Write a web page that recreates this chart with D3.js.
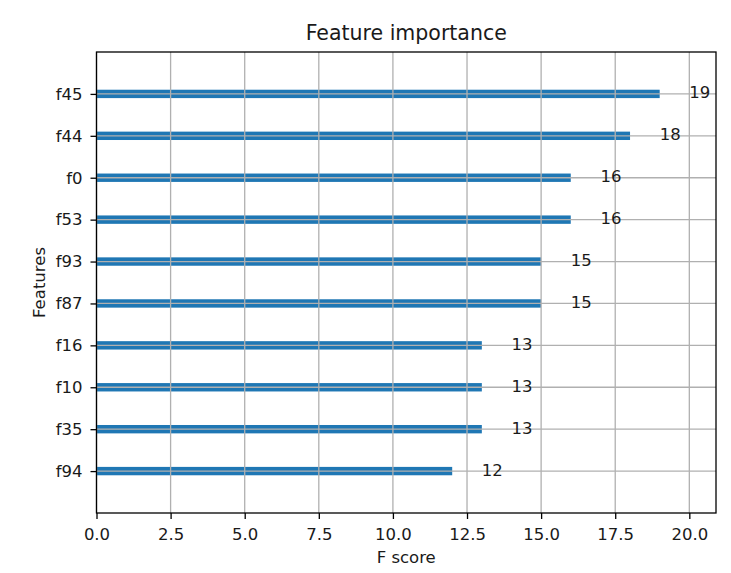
<!DOCTYPE html>
<html>
<head>
<meta charset="utf-8">
<script src="https://cdn.jsdelivr.net/npm/d3@7"></script>
<style>
  body { margin: 0; background: #fff; }
  text { font-family: "DejaVu Sans", sans-serif; fill: #1a1a1a; }
</style>
</head>
<body>
<script>
// feature importance, bottom to top as matplotlib draws it
var features = ["f94", "f35", "f10", "f16", "f87", "f93", "f53", "f0", "f44", "f45"];
var scores = [12, 13, 13, 13, 15, 15, 16, 16, 18, 19];
var xTicks = [0, 2.5, 5, 7.5, 10, 12.5, 15, 17.5, 20];

var margin = { top: 52, right: 15, bottom: 60, left: 96.5 };
var W = 731, H = 573;
var width = W - margin.left - margin.right;
var height = H - margin.top - margin.bottom;
var fs = "16.5px";

var svg = d3.select("body")
    .append("svg")
    .attr("width", W)
    .attr("height", H);

var g = svg.append("g")
    .attr("transform", "translate(" + margin.left + "," + margin.top + ")");

var x = d3.scaleLinear()
    .domain([0, d3.max(scores) * 1.1])
    .range([0, width]);

// positions 0..n-1, with a unit of padding each side
var y = d3.scaleLinear()
    .domain([-1, features.length])
    .range([height, 0]);

var barH = y(0) - y(0.2);

// bars
g.selectAll(".bar")
    .data(scores)
    .enter()
    .append("rect")
    .attr("class", "bar")
    .attr("x", x(0))
    .attr("y", function(d, i) { return y(i) - barH / 2; })
    .attr("width", function(d) { return x(d) - x(0); })
    .attr("height", barH)
    .attr("fill", "#1f77b4");

// grid on top of bars
var grid = g.append("g").attr("class", "grid");
grid.selectAll(".vgrid")
    .data(xTicks)
    .enter()
    .append("line")
    .attr("x1", function(d) { return x(d); })
    .attr("x2", function(d) { return x(d); })
    .attr("y1", 0)
    .attr("y2", height)
    .attr("stroke", "#b0b0b0")
    .attr("stroke-width", 1.3);
grid.selectAll(".hgrid")
    .data(features)
    .enter()
    .append("line")
    .attr("x1", 0)
    .attr("x2", width)
    .attr("y1", function(d, i) { return y(i); })
    .attr("y2", function(d, i) { return y(i); })
    .attr("stroke", "#b0b0b0")
    .attr("stroke-width", 1.3);

// value labels
g.selectAll(".val")
    .data(scores)
    .enter()
    .append("text")
    .attr("x", function(d) { return x(d + 1); })
    .attr("y", function(d, i) { return y(i); })
    .attr("dy", "0.27em")
    .attr("font-size", fs)
    .text(function(d) { return d; });

// axes
var xAxis = d3.axisBottom(x)
    .tickValues(xTicks)
    .tickFormat(d3.format(".1f"))
    .tickSize(6)
    .tickPadding(9);

var yAxis = d3.axisLeft(y)
    .tickValues(d3.range(features.length))
    .tickFormat(function(d) { return features[d]; })
    .tickSize(6)
    .tickPadding(8);

g.append("g")
    .attr("transform", "translate(0," + height + ")")
    .call(xAxis)
    .call(function(s) {
        s.select(".domain").remove();
        s.selectAll("line").attr("stroke", "#000").attr("stroke-width", 1.3);
        s.selectAll("text").attr("font-size", fs).attr("fill", "#1a1a1a");
    });

g.append("g")
    .call(yAxis)
    .call(function(s) {
        s.select(".domain").remove();
        s.selectAll("line").attr("stroke", "#000").attr("stroke-width", 1.3);
        s.selectAll("text").attr("font-size", fs).attr("fill", "#1a1a1a");
    });

// frame
g.append("rect")
    .attr("width", width)
    .attr("height", height)
    .attr("fill", "none")
    .attr("stroke", "#000")
    .attr("stroke-width", 1.3);

// titles
svg.append("text")
    .attr("x", margin.left + width / 2)
    .attr("y", 40)
    .attr("text-anchor", "middle")
    .attr("font-size", "20.5px")
    .text("Feature importance");

svg.append("text")
    .attr("x", margin.left + width / 2)
    .attr("y", 563)
    .attr("text-anchor", "middle")
    .attr("font-size", fs)
    .text("F score");

svg.append("text")
    .attr("transform", "translate(45," + (margin.top + height / 2) + ") rotate(-90)")
    .attr("text-anchor", "middle")
    .attr("font-size", fs)
    .text("Features");
</script>
</body>
</html>
